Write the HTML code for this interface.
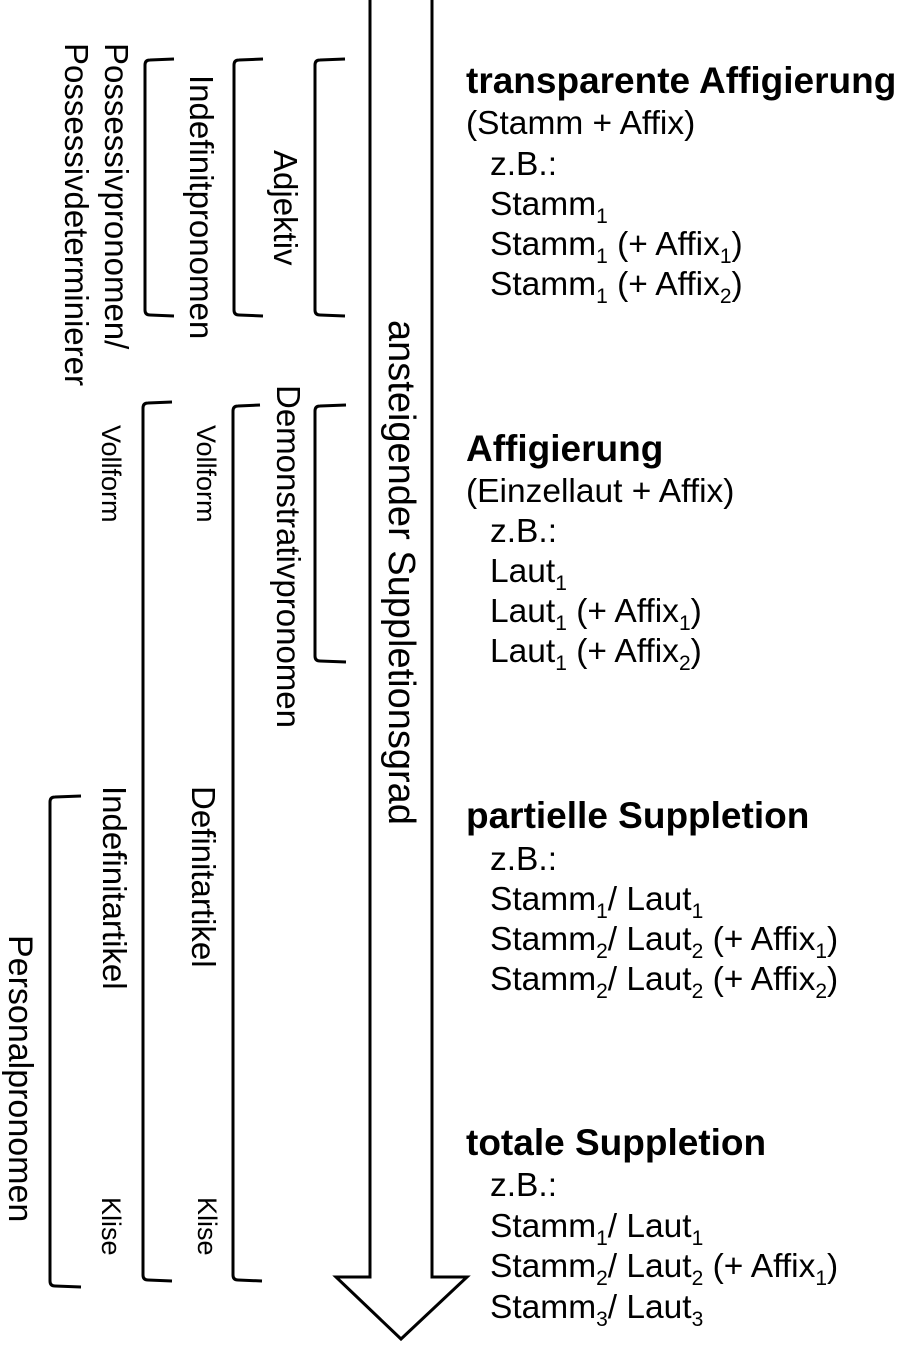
<!DOCTYPE html>
<html><head><meta charset="utf-8"><style>
html,body{margin:0;padding:0;background:#fff;}
svg{display:block;}
text{font-family:"Liberation Sans",Arial,sans-serif;fill:#000;}
.b{font-weight:bold;font-size:37px;}
.n{font-size:33.5px;}
.s{font-size:21px;}
.v{font-size:33px;}
.sm{font-size:27px;}
.kl{font-size:27px;}
</style></head><body>
<svg width="903" height="1345" viewBox="0 0 903 1345" xmlns="http://www.w3.org/2000/svg">
<path d="M370,-2 L370,1277 L336,1277 L401,1339 L467,1277 L432,1277 L432,-2" fill="#fff" stroke="#000" stroke-width="3" stroke-linejoin="miter"/>
<g fill="none" stroke="#000" stroke-width="3">
<path d="M345,59 L320,60 Q315,60 315,65 L315,310 Q315,315 320,315 L345,316"/>
<path d="M263,59 L239,60 Q234,60 234,65 L234,310 Q234,315 239,315 L263,316"/>
<path d="M174,59 L150,60 Q145,60 145,65 L145,310 Q145,315 150,315 L174,316"/>
<path d="M346,405 L320,406 Q315,406 315,411 L315,656 Q315,661 320,661 L346,662"/>
<path d="M260,405 L238,406 Q233,406 233,411 L233,1275 Q233,1280 238,1280 L262,1281"/>
<path d="M172,402 L148,403 Q143,403 143,408 L143,1275 Q143,1280 148,1280 L172,1281"/>
<path d="M81,796 L55,797 Q50,797 50,802 L50,1281 Q50,1286 55,1286 L81,1287"/>
</g>
<text class="v" transform="translate(105,43) rotate(90)">Possessivpronomen/</text>
<text class="v" transform="translate(65,43) rotate(90)">Possessivdeterminierer</text>
<text class="v" transform="translate(190,75) rotate(90)">Indefinitpronomen</text>
<text class="v" transform="translate(274,150) rotate(90)">Adjektiv</text>
<text class="v" transform="translate(277,385) rotate(90)">Demonstrativpronomen</text>
<text class="sm" transform="translate(102,425) rotate(90)">Vollform</text>
<text class="sm" transform="translate(197,425) rotate(90)">Vollform</text>
<text class="v" transform="translate(103,786) rotate(90)">Indefinitartikel</text>
<text class="v" transform="translate(192,786) rotate(90)">Definitartikel</text>
<text style="font-size:34px" transform="translate(9,935) rotate(90)">Personalpronomen</text>
<text class="kl" transform="translate(102,1197) rotate(90)">Klise</text>
<text class="kl" transform="translate(198,1197) rotate(90)">Klise</text>
<text style="font-size:38px" transform="translate(389,320) rotate(90)">ansteigender Suppletionsgrad</text>

<text class="b" x="466" y="93">transparente Affigierung</text>
<text class="n" x="466" y="134">(Stamm + Affix)</text>
<text class="n" x="490" y="175">z.B.:</text>
<text class="n" x="490" y="215">Stamm<tspan class="s" dy="8">1</tspan></text>
<text class="n" x="490" y="255">Stamm<tspan class="s" dy="8">1</tspan><tspan dy="-8"> (+ Affix</tspan><tspan class="s" dy="8">1</tspan><tspan dy="-8">)</tspan></text>
<text class="n" x="490" y="295">Stamm<tspan class="s" dy="8">1</tspan><tspan dy="-8"> (+ Affix</tspan><tspan class="s" dy="8">2</tspan><tspan dy="-8">)</tspan></text>

<text class="b" x="466" y="461">Affigierung</text>
<text class="n" x="466" y="502">(Einzellaut + Affix)</text>
<text class="n" x="490" y="542">z.B.:</text>
<text class="n" x="490" y="582">Laut<tspan class="s" dy="8">1</tspan></text>
<text class="n" x="490" y="622">Laut<tspan class="s" dy="8">1</tspan><tspan dy="-8"> (+ Affix</tspan><tspan class="s" dy="8">1</tspan><tspan dy="-8">)</tspan></text>
<text class="n" x="490" y="662">Laut<tspan class="s" dy="8">1</tspan><tspan dy="-8"> (+ Affix</tspan><tspan class="s" dy="8">2</tspan><tspan dy="-8">)</tspan></text>

<text class="b" x="466" y="828">partielle Suppletion</text>
<text class="n" x="490" y="870">z.B.:</text>
<text class="n" x="490" y="910">Stamm<tspan class="s" dy="8">1</tspan><tspan dy="-8">/ Laut</tspan><tspan class="s" dy="8">1</tspan></text>
<text class="n" x="490" y="950">Stamm<tspan class="s" dy="8">2</tspan><tspan dy="-8">/ Laut</tspan><tspan class="s" dy="8">2</tspan><tspan dy="-8"> (+ Affix</tspan><tspan class="s" dy="8">1</tspan><tspan dy="-8">)</tspan></text>
<text class="n" x="490" y="990">Stamm<tspan class="s" dy="8">2</tspan><tspan dy="-8">/ Laut</tspan><tspan class="s" dy="8">2</tspan><tspan dy="-8"> (+ Affix</tspan><tspan class="s" dy="8">2</tspan><tspan dy="-8">)</tspan></text>

<text class="b" x="466" y="1155">totale Suppletion</text>
<text class="n" x="490" y="1196">z.B.:</text>
<text class="n" x="490" y="1237">Stamm<tspan class="s" dy="8">1</tspan><tspan dy="-8">/ Laut</tspan><tspan class="s" dy="8">1</tspan></text>
<text class="n" x="490" y="1277">Stamm<tspan class="s" dy="8">2</tspan><tspan dy="-8">/ Laut</tspan><tspan class="s" dy="8">2</tspan><tspan dy="-8"> (+ Affix</tspan><tspan class="s" dy="8">1</tspan><tspan dy="-8">)</tspan></text>
<text class="n" x="490" y="1318">Stamm<tspan class="s" dy="8">3</tspan><tspan dy="-8">/ Laut</tspan><tspan class="s" dy="8">3</tspan></text>
</svg>
</body></html>
